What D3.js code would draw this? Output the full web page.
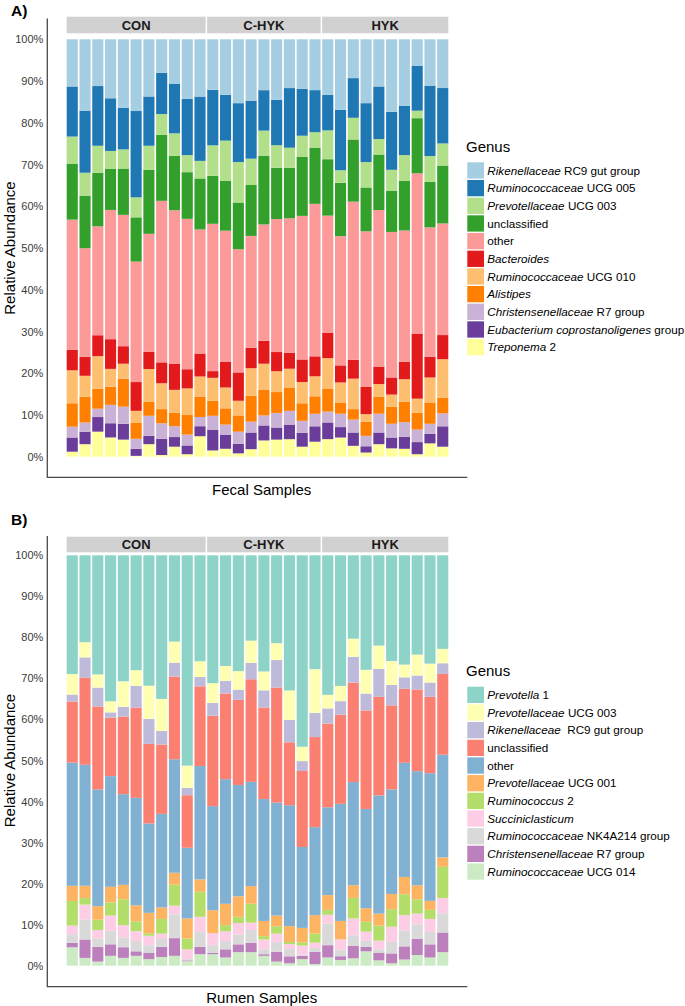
<!DOCTYPE html>
<html><head><meta charset="utf-8">
<script src="https://cdn.jsdelivr.net/npm/d3@7"></script>
<style>
body{margin:0;background:#fff}
text{font-family:"Liberation Sans",Arial,Helvetica,sans-serif}
</style>
</head><body>
<svg id="chart" width="685" height="1006"></svg>
<script>
// ---------- categories ----------
const groups = ["CON", "C-HYK", "HYK"];
const groupSizes = [11, 9, 10];
const yTickValues = [0, 0.1, 0.2, 0.3, 0.4, 0.5, 0.6, 0.7, 0.8, 0.9, 1.0];

// ---------- A) Fecal samples (percent, top of stack first) ----------
const fecalRikenellaceaeRC9 = [11.3,17.1,11.2,14.1,16.4,17.2,13.7,8.0,10.7,14.3,13.7,12.1,13.3,15.3,14.7,12.2,14.5,11.7,11.9,12.2,13.3,16.9,9.3,15.3,11.3,17.4,16.0,6.3,11.1,11.7];
const fecalRuminococcaceaeUCG005 = [12.0,14.9,14.3,12.6,10.0,20.7,11.8,9.9,11.8,13.5,15.4,13.3,11.0,14.1,13.9,9.7,10.9,14.3,11.2,10.1,8.5,14.5,9.5,14.1,12.6,13.9,11.8,10.8,16.9,13.3];
const fecalPrevotellaceaeUCG003 = [6.5,5.5,6.5,4.3,4.6,4.8,5.8,5.0,5.4,4.1,4.2,7.3,9.6,9.7,6.3,6.0,5.4,4.8,5.1,3.7,6.9,3.0,5.2,6.1,3.7,5.0,6.2,1.8,6.2,5.3];
const fecalUnclassified = [13.4,12.6,12.8,9.8,11.1,10.6,15.3,15.8,13.0,11.2,12.2,11.5,12.0,11.2,12.2,16.5,12.3,12.1,14.1,13.5,13.5,12.8,14.9,10.5,13.3,9.9,11.9,13.2,10.9,13.9];
const fecalOther = [31.2,26.0,26.1,30.9,31.5,28.9,28.3,38.7,36.8,36.1,29.7,35.3,31.4,29.5,26.8,27.9,31.9,32.3,34.4,36.6,28.0,31.0,37.9,37.3,37.5,34.9,31.5,38.4,31.0,26.8];
const fecalBacteroides = [4.9,4.6,5.0,7.1,4.2,6.9,4.1,5.0,6.2,4.6,5.5,1.6,6.2,6.8,4.9,5.5,4.6,3.8,5.4,4.8,6.1,4.1,4.5,6.5,4.2,4.1,4.2,15.6,5.0,5.8];
const fecalRuminococcaceaeUCG010 = [7.9,5.0,7.8,4.3,3.6,2.9,7.8,6.2,5.5,6.4,4.8,5.5,5.0,3.5,6.6,6.3,5.0,4.5,5.1,4.8,7.4,4.8,7.3,1.8,3.0,2.9,5.4,3.4,6.0,9.3];
const fecalAlistipes = [5.6,6.2,4.8,4.3,6.7,3.8,3.4,3.4,3.2,4.7,4.9,3.6,3.9,3.9,6.2,6.1,5.0,5.6,4.2,4.2,5.4,2.7,2.5,3.4,4.1,4.1,4.9,4.0,5.1,3.7];
const fecalChristensenellaceaeR7 = [2.6,2.2,2.0,4.4,4.1,2.4,4.8,3.7,2.6,2.6,2.2,3.4,2.4,2.9,2.6,2.4,3.5,3.3,2.9,3.0,2.6,3.2,3.1,2.5,4.5,3.3,3.5,3.0,2.4,3.1];
const fecalEubacterium = [3.4,3.0,3.5,3.4,3.8,1.7,2.0,3.9,2.3,2.1,2.4,4.9,3.4,2.3,4.0,3.6,2.9,3.5,3.3,3.7,4.0,2.5,3.2,1.5,2.8,2.6,2.9,2.9,2.3,4.9];
const fecalTreponema2 = [1.2,3.0,6.0,4.6,4.1,0.2,3.0,0.4,2.4,0.6,4.9,1.5,1.9,0.8,1.8,3.9,4.1,4.2,2.4,3.6,4.2,4.6,2.6,1.0,3.0,2.0,1.9,0.6,3.2,2.4];

const fecalLabelItalic = ["Rikenellaceae","Ruminococcaceae","Prevotellaceae","","","Bacteroides","Ruminococcaceae","Alistipes","Christensenellaceae","Eubacterium coprostanoligenes","Treponema"];
const fecalLabelPlain  = [" RC9 gut group"," UCG 005"," UCG 003","unclassified","other",""," UCG 010",""," R7 group"," group"," 2"];
const fecalColors = ["#A6CEE3","#1F78B4","#B2DF8A","#33A02C","#FB9A99","#E31A1C","#FDBF6F","#FF7F00","#CAB2D6","#6A3D9A","#FFFF99"];

// ---------- B) Rumen samples (percent, top of stack first) ----------
const rumenPrevotella1 = [29.0,21.2,29.0,35.5,30.7,28.0,31.8,35.0,21.0,51.2,25.8,31.1,27.0,28.2,20.8,28.3,21.4,33.1,46.6,27.7,34.0,31.8,20.3,27.9,22.0,25.8,26.6,24.2,26.4,22.8];
const rumenPrevotellaceaeUCG003 = [5.0,3.7,3.2,2.7,6.2,3.8,8.1,7.8,5.1,5.4,3.8,4.8,3.6,4.5,5.4,4.6,4.1,7.2,3.5,10.6,3.3,3.7,4.4,5.8,5.7,5.8,3.1,5.1,4.6,3.5];
const rumenRikenellaceaeRC9 = [1.7,4.9,4.6,1.3,2.4,5.3,6.1,3.3,3.4,1.8,2.3,3.1,3.1,2.5,4.0,4.2,6.7,5.5,2.4,5.9,3.7,3.3,6.3,4.1,6.8,5.0,2.8,3.4,3.5,2.6];
const rumenUnclassified = [14.9,21.3,20.2,14.2,18.9,22.0,19.4,16.9,20.1,12.8,19.4,22.0,20.9,20.7,25.0,22.3,28.0,15.4,18.5,21.9,20.4,21.7,24.2,24.0,24.0,20.5,18.0,19.9,18.6,19.7];
const rumenOther = [30.1,29.5,28.4,26.9,22.1,26.2,21.8,22.8,27.6,17.2,27.6,25.3,30.4,27.1,25.4,29.7,27.5,29.6,19.7,21.4,21.4,28.5,25.1,24.2,28.8,25.5,27.8,27.8,31.1,25.0];
const rumenPrevotellaceaeUCG001 = [3.7,3.0,3.3,3.8,3.5,3.9,5.0,2.8,2.9,4.9,3.0,5.6,5.2,5.0,4.3,3.7,2.6,3.9,3.5,4.5,3.6,4.5,3.1,3.3,2.9,3.7,4.2,3.4,2.2,2.3];
const rumenRuminococcus2 = [6.0,1.6,2.5,3.2,6.3,2.4,0.6,3.6,5.1,2.6,6.1,0.0,1.5,1.5,4.6,0.8,1.8,0.5,0.8,2.2,1.2,0.0,5.0,2.4,3.7,4.3,5.1,3.5,2.2,7.6];
const rumenSucciniclasticum = [2.1,3.6,2.1,3.7,3.0,2.4,2.3,1.3,2.1,2.4,3.7,2.9,2.4,2.8,1.8,2.4,2.0,1.2,2.2,1.3,2.1,2.5,4.1,2.2,2.1,3.7,3.7,2.6,3.2,3.7];
const rumenRuminococcaceaeNK4A214 = [2.1,4.9,2.0,3.3,2.4,2.5,1.9,1.9,5.8,0.3,3.6,1.9,2.0,2.4,3.1,1.2,2.4,1.8,0.3,0.9,5.3,1.6,2.6,1.5,0.9,2.8,3.9,3.6,3.0,4.7];
const rumenChristensenellaceaeR7 = [1.1,4.5,3.6,2.8,2.6,1.1,1.5,2.5,4.3,0.2,1.8,0.3,2.0,1.9,2.3,0.4,2.4,1.7,0.8,3.0,3.0,0.9,3.0,1.1,1.8,2.4,3.2,3.9,3.2,4.8];
const rumenRuminococcaceaeUCG014 = [4.5,1.9,1.0,2.4,1.9,2.4,1.6,2.1,2.4,1.1,2.8,2.8,2.0,3.3,3.3,2.4,1.0,0.6,1.6,0.4,2.0,1.4,1.8,3.5,1.3,0.6,1.5,2.6,2.0,3.3];

const rumenLabelItalic = ["Prevotella","Prevotellaceae","Rikenellaceae","","","Prevotellaceae","Ruminococcus","Succiniclasticum","Ruminococcaceae","Christensenellaceae","Ruminococcaceae"];
const rumenLabelPlain  = [" 1"," UCG 003","  RC9 gut group","unclassified","other"," UCG 001"," 2",""," NK4A214 group"," R7 group"," UCG 014"];
const rumenColors = ["#8DD3C7","#FFFFB3","#BEBADA","#FB8072","#80B1D3","#FDB462","#B3DE69","#FCCDE5","#D9D9D9","#BC80BD","#CCEBC5"];

// ---------- build ----------
const sampleIds = [];
const sampleGroup = [];
groups.forEach((g, gi) => { for (let k = 0; k < groupSizes[gi]; k++) { sampleIds.push(g + "_" + (k + 1)); sampleGroup.push(g); } });

const svg = d3.select("#chart");

function drawPanel(cfg) {
  const keys = cfg.series.map((s, i) => "k" + i);           // top-first order
  const rows = sampleIds.map((id, j) => {
    const r = { id };
    cfg.series.forEach((s, i) => r["k" + i] = s[j]);
    return r;
  });
  const stack = d3.stack().keys(keys.slice().reverse()).offset(d3.stackOffsetExpand);
  const layers = stack(rows);
  const color = d3.scaleOrdinal().domain(keys).range(cfg.colors);

  const x = d3.scaleBand().domain(sampleIds).range([66.7, 448.3]).paddingInner(0.13).paddingOuter(0);
  const y = d3.scaleLinear().domain([0, 1]).range([cfg.bottom, cfg.top]);
  const step = x.step(), bw = x.bandwidth();

  // panel label
  svg.append("text").attr("x", 11).attr("y", cfg.labelY).attr("font-size", 15.5).attr("font-weight", "bold")
    .attr("fill", "#000").text(cfg.label);

  // strips
  groups.forEach((g, gi) => {
    const ids = sampleIds.filter((d, j) => sampleGroup[j] === g);
    const half = (step - bw) / 2;
    const left = x(ids[0]) - (gi > 0 ? half - 0.75 : 0);
    const right = x(ids[ids.length - 1]) + bw + (gi < groups.length - 1 ? half - 0.75 : 0);
    svg.append("rect").attr("x", left).attr("y", cfg.stripTop).attr("width", right - left)
      .attr("height", cfg.stripBottom - cfg.stripTop).attr("fill", "#D2D1D1");
    svg.append("text").attr("x", (left + right) / 2).attr("y", (cfg.stripTop + cfg.stripBottom) / 2 + 4.6)
      .attr("text-anchor", "middle").attr("font-size", 13).attr("font-weight", "bold").attr("fill", "#1a1a1a").text(g);
  });

  // bars
  svg.append("g").selectAll("g").data(layers).join("g")
    .attr("fill", d => color(d.key))
    .selectAll("rect").data(d => d).join("rect")
    .attr("x", d => x(d.data.id)).attr("width", bw)
    .attr("y", d => y(d[1])).attr("height", d => y(d[0]) - y(d[1]));

  // y axis
  const yAxis = d3.axisLeft(y).tickValues(yTickValues).tickFormat(d3.format(".0%")).tickSize(0).tickPadding(4);
  const ga = svg.append("g").attr("transform", "translate(47.3,0)").call(yAxis);
  ga.select(".domain").remove();
  ga.selectAll("text").attr("font-size", 11).attr("fill", "#3a3a3a").style("font-family", "'Liberation Sans',Arial,sans-serif");

  // axis frame lines (left + bottom)
  svg.append("path").attr("d", `M47.3,${cfg.axisTop}V${cfg.axisBottom}H467.3`)
    .attr("fill", "none").attr("stroke", "#4a4a4a").attr("stroke-width", 1.3);

  // titles
  svg.append("text").attr("transform", `translate(15,${(cfg.top + cfg.bottom) / 2}) rotate(-90)`)
    .attr("text-anchor", "middle").attr("font-size", 15).attr("fill", "#000").text("Relative Abundance");
  svg.append("text").attr("x", 261.7).attr("y", cfg.xTitleY).attr("text-anchor", "middle")
    .attr("font-size", 15).attr("fill", "#000").text(cfg.xTitle);

  // legend
  svg.append("text").attr("x", 466).attr("y", cfg.legendTitleY).attr("font-size", 15).attr("fill", "#000").text("Genus");
  const pitch = 17.67;
  const lg = svg.append("g").selectAll("g").data(keys).join("g")
    .attr("transform", (d, i) => `translate(467.3,${cfg.legendTop + i * pitch})`);
  lg.append("rect").attr("width", 16.7).attr("height", 16.3).attr("fill", d => color(d));
  const lt = lg.append("text").attr("x", 20).attr("y", 8.2 + 4.2).attr("font-size", 11.7).attr("fill", "#000")
    .style("white-space", "pre");
  lt.append("tspan").style("font-style", "italic").text((d, i) => cfg.italic[i]);
  lt.append("tspan").text((d, i) => cfg.plain[i]);
}

drawPanel({
  label: "A)", labelY: 15.5,
  series: [fecalRikenellaceaeRC9, fecalRuminococcaceaeUCG005, fecalPrevotellaceaeUCG003, fecalUnclassified, fecalOther,
           fecalBacteroides, fecalRuminococcaceaeUCG010, fecalAlistipes, fecalChristensenellaceaeR7, fecalEubacterium, fecalTreponema2],
  colors: fecalColors, italic: fecalLabelItalic, plain: fecalLabelPlain,
  top: 39.3, bottom: 456.7, stripTop: 16.7, stripBottom: 33.3, axisTop: 18.5, axisBottom: 477.3,
  xTitle: "Fecal Samples", xTitleY: 494.5, legendTitleY: 152, legendTop: 162.3
});

drawPanel({
  label: "B)", labelY: 524.5,
  series: [rumenPrevotella1, rumenPrevotellaceaeUCG003, rumenRikenellaceaeRC9, rumenUnclassified, rumenOther,
           rumenPrevotellaceaeUCG001, rumenRuminococcus2, rumenSucciniclasticum, rumenRuminococcaceaeNK4A214,
           rumenChristensenellaceaeR7, rumenRuminococcaceaeUCG014],
  colors: rumenColors, italic: rumenLabelItalic, plain: rumenLabelPlain,
  top: 555.3, bottom: 965.7, stripTop: 536.7, stripBottom: 552.3, axisTop: 536, axisBottom: 986.7,
  xTitle: "Rumen Samples", xTitleY: 1002.5, legendTitleY: 676.4, legendTop: 686.7
});
</script>
</body></html>
